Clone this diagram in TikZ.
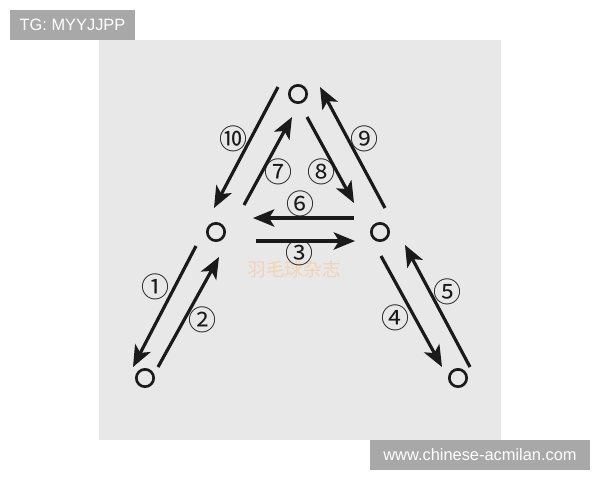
\documentclass[tikz,border=0pt]{standalone}
\usepackage{fontspec}
\setmainfont{Liberation Sans}
\newfontfamily\circfont{Noto Sans CJK SC}
\newfontfamily\cjkfont{Noto Sans CJK SC}
\usetikzlibrary{arrows.meta}
\definecolor{bgc}{HTML}{E8E8E8}
\definecolor{tagc}{HTML}{A8A8A8}
\definecolor{wmc}{HTML}{F3D3B6}
\definecolor{inkc}{HTML}{1A1A1A}
\begin{document}
\begin{tikzpicture}[x=0.75pt,y=-0.75pt,
  spot/.style={circle,draw=inkc,line width=2pt,minimum size=13pt,inner sep=0pt,fill=none},
  mv/.style={draw=inkc,line width=2.4pt,-{Stealth[length=16pt,width=13pt,inset=4pt]}},
  num/.style={font=\circfont\fontsize{21pt}{21pt}\selectfont,text=inkc,inner sep=0pt},
  tag/.style={fill=tagc,text=white,font=\fontsize{12.3pt}{14pt}\selectfont,inner sep=0pt,minimum height=22.5pt}
]
\useasboundingbox (0,0) rectangle (600,480);
\fill[white] (0,0) rectangle (600,480);
\fill[bgc] (99,40) rectangle (501,440);

% tags
\node[tag,minimum width=93.75pt] (tg) at (72.5,25) {TG: MYYJJPP};
\node[tag,minimum width=165pt] (url) at (480,455) {www.chinese-acmilan.com};

% watermark
\node[text=wmc,font=\cjkfont\fontsize{14pt}{14pt}\selectfont,inner sep=0pt] (wm) at (294,269) {羽毛球杂志};

% spots
\node[spot] (top) at (298,94) {};
\node[spot] (ml) at (216,232) {};
\node[spot] (mr) at (380,232) {};
\node[spot] (bl) at (145,378) {};
\node[spot] (br) at (458,378) {};

% endpoints
\coordinate (a1s) at (196,246); \coordinate (a1e) at (133,367);
\coordinate (a2s) at (158,367); \coordinate (a2e) at (219,257);
\coordinate (a3s) at (256,241); \coordinate (a3e) at (355,241);
\coordinate (a4s) at (381,256); \coordinate (a4e) at (442,367);
\coordinate (a5s) at (470,367); \coordinate (a5e) at (405,245);
\coordinate (a6s) at (354,218); \coordinate (a6e) at (253,218);
\coordinate (a7s) at (244,205); \coordinate (a7e) at (292,117);
\coordinate (a8s) at (307,117); \coordinate (a8e) at (354,203);
\coordinate (a9s) at (385,208); \coordinate (a9e) at (320,87);
\coordinate (a10s) at (278,87); \coordinate (a10e) at (214,208);

\draw[mv] (a1s) -- (a1e);
\draw[mv] (a2s) -- (a2e);
\draw[mv] (a3s) -- (a3e);
\draw[mv] (a4s) -- (a4e);
\draw[mv] (a5s) -- (a5e);
\draw[mv] (a6s) -- (a6e);
\draw[mv] (a7s) -- (a7e);
\draw[mv] (a8s) -- (a8e);
\draw[mv] (a9s) -- (a9e);
\draw[mv] (a10s) -- (a10e);

% labels
\node[num] (n1) at (155,287) {①};
\node[num] (n2) at (202,320) {②};
\node[num] (n3) at (299,253) {③};
\node[num] (n4) at (395,318) {④};
\node[num] (n5) at (447,292) {⑤};
\node[num] (n6) at (300,204) {⑥};
\node[num] (n7) at (278,172) {⑦};
\node[num] (n8) at (321,172) {⑧};
\node[num] (n9) at (364,139) {⑨};
\node[num] (n10) at (233,139) {⑩};
\end{tikzpicture}
\end{document}
